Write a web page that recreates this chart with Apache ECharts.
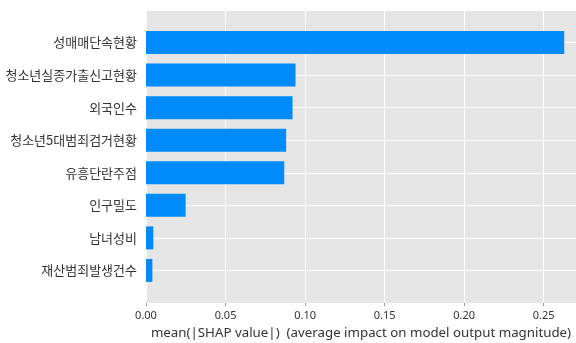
<!DOCTYPE html>
<html>
<head>
<meta charset="utf-8">
<script src="https://cdn.jsdelivr.net/npm/echarts@6/dist/echarts.min.js"></script>
<style>
html,body{margin:0;padding:0;background:#fff;}
#c{width:576px;height:343px;}
</style>
</head>
<body>
<div id="c"></div>
<script>
const categories = ['성매매단속현황','청소년실종가출신고현황','외국인수','청소년5대범죄검거현황','유흥단란주점','인구밀도','남녀성비','재산범죄발생건수'];
const values = [0.2629, 0.0940, 0.0921, 0.0881, 0.0869, 0.0249, 0.0046, 0.0040];
const xTicks = [0, 0.05, 0.10, 0.15, 0.20, 0.25];
const xTitle = 'mean(|SHAP value|)  (average impact on model output magnitude)';

const font = '"Noto Sans CJK KR", "Noto Sans", sans-serif';
const latin = '"Noto Sans", "Noto Sans CJK KR", sans-serif';
const yData = [''].concat(categories, ['']);
const yVals = ['-'].concat(values, ['-']);

const chart = echarts.init(document.getElementById('c'), null, {renderer:'canvas'});
chart.setOption({
  animation: false,
  textStyle: {fontFamily: font},
  grid: {left: 146, right: 0, top: 10, bottom: 40, show: true, backgroundColor: '#e5e5e5', borderWidth: 0, containLabel: false, outerBoundsMode: 'none'},
  xAxis: {
    type: 'value', min: 0, max: 0.2703, interval: 0.05,
    name: xTitle, nameLocation: 'middle', nameGap: 22,
    nameTextStyle: {fontFamily: latin, fontSize: 13.3, color: '#333', lineHeight: 14},
    axisLine: {show: false},
    axisTick: {show: true, length: 3, lineStyle: {color: '#999'}, customValues: xTicks},
    axisLabel: {fontFamily: latin, fontSize: 11, color: '#333', margin: 7, customValues: xTicks,
      formatter: v => v.toFixed(2)},
    splitLine: {show: true, lineStyle: {color: '#ffffff', width: 1}}
  },
  yAxis: {
    type: 'category', data: yData, inverse: true, boundaryGap: false,
    axisLine: {show: false}, axisTick: {show: false},
    axisLabel: {fontFamily: font, fontSize: 13, color: '#333', margin: 9},
    splitLine: {show: true, lineStyle: {color: '#ffffff', width: 1}}
  },
  series: [{
    type: 'bar', data: yVals, barWidth: 23,
    itemStyle: {color: '#008bfb'},
    z: 3
  }]
});
</script>
</body>
</html>
